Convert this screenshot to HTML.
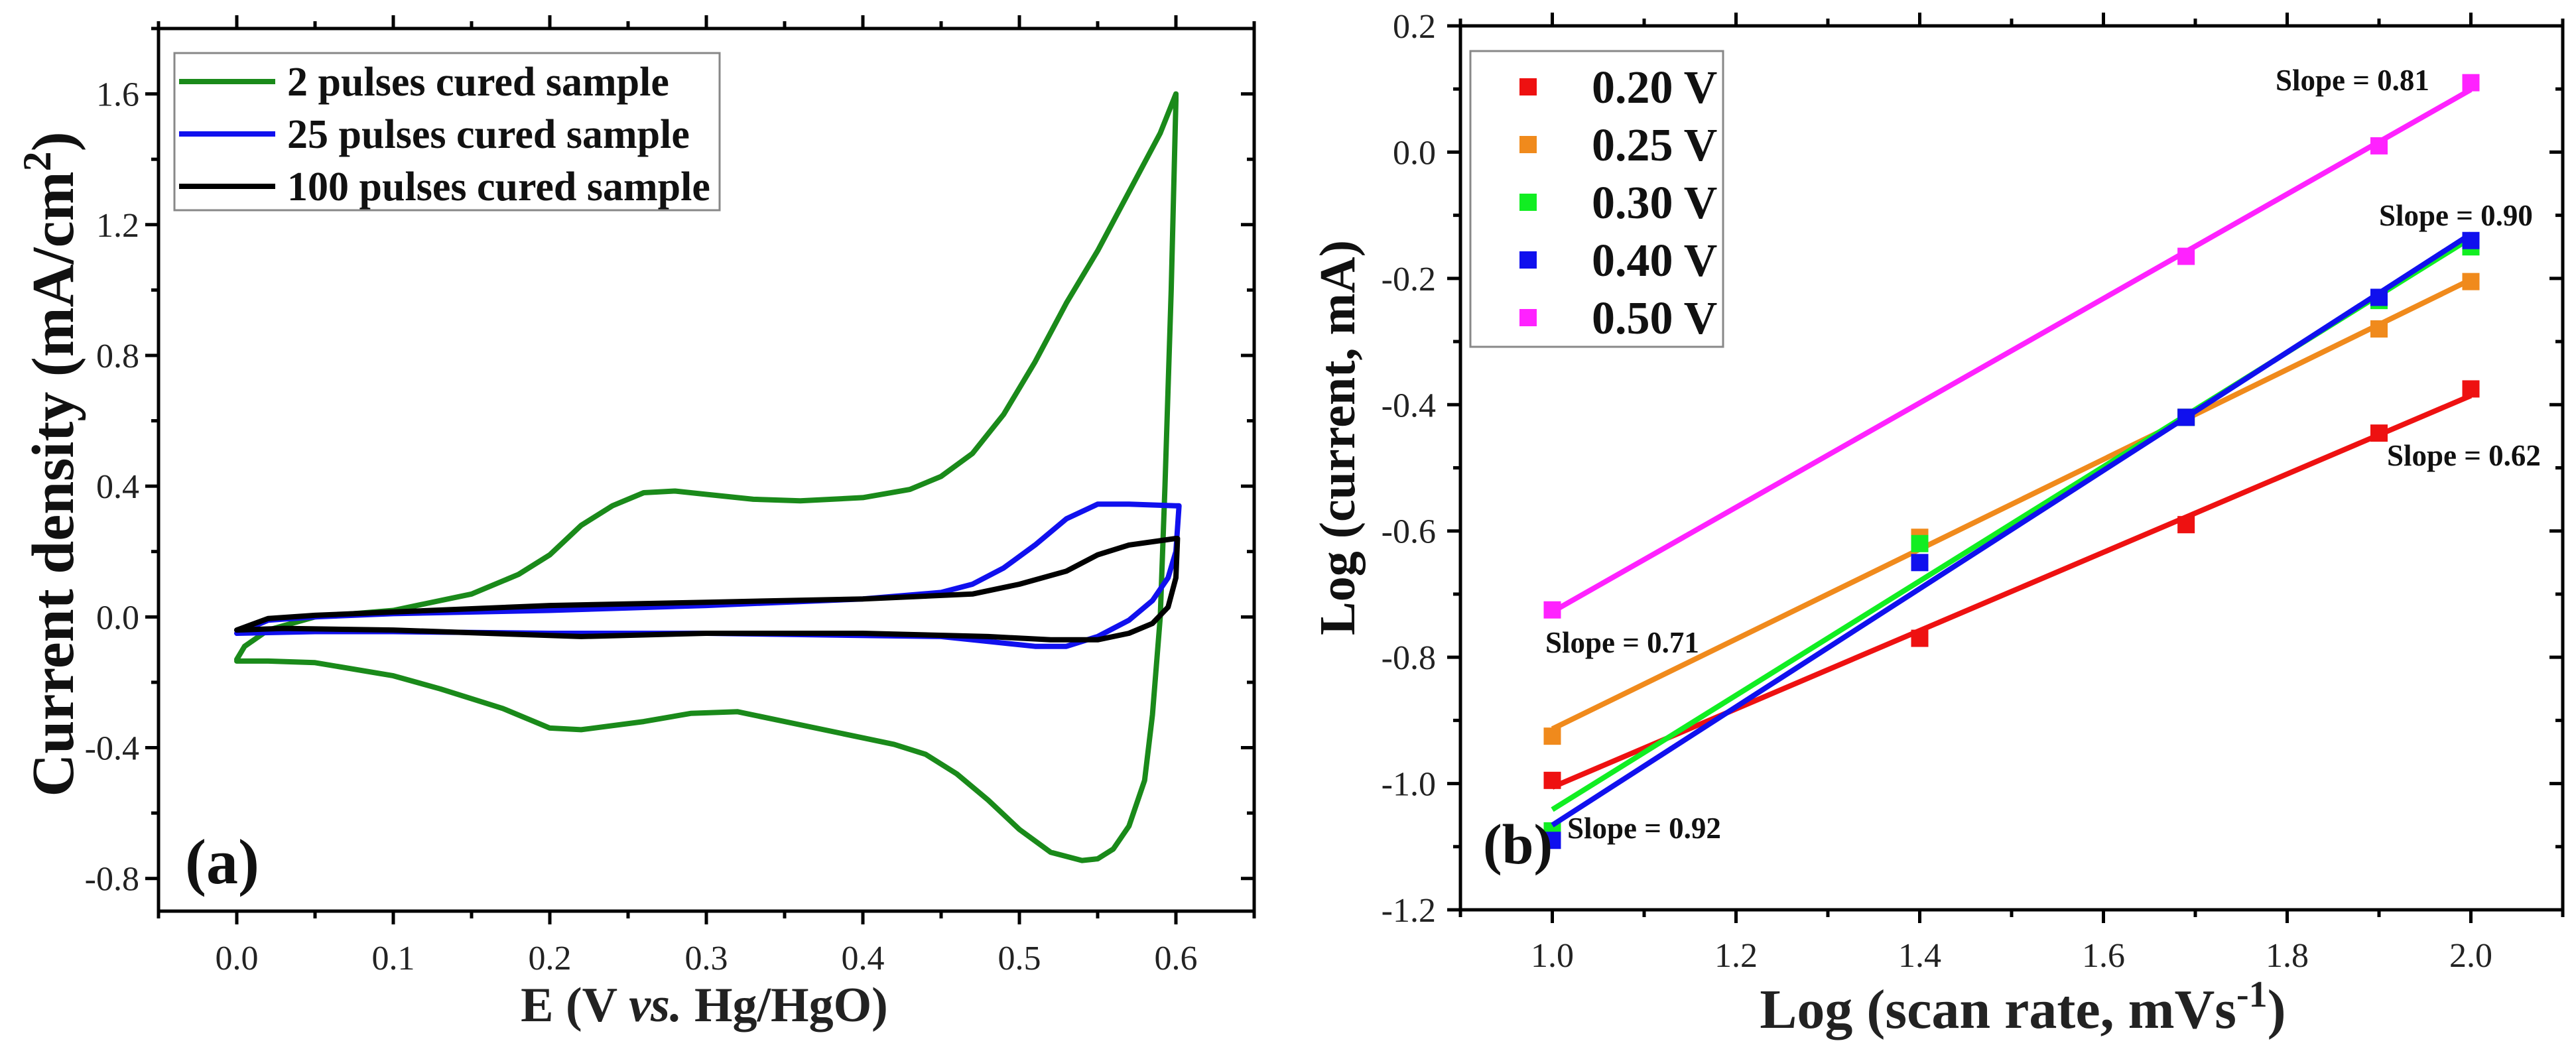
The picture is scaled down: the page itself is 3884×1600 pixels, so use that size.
<!DOCTYPE html>
<html><head><meta charset="utf-8">
<style>
html,body{margin:0;padding:0;background:#fff;}
svg{display:block;font-family:"Liberation Serif",serif;}
</style></head>
<body>
<svg id="fig" width="3884" height="1600" viewBox="0 0 3884 1600" xmlns="http://www.w3.org/2000/svg">
<g id="pa"></g>
<g id="pb"></g>
</svg>
<script>
// ---------- Panel (a) data ----------
const cvNames = ["2 pulses cured sample","25 pulses cured sample","100 pulses cured sample"];
const cvColors = ["#1a8a1a","#1010ee","#000000"];
const cv2E = [0,0.005,0.02,0.05,0.1,0.15,0.18,0.2,0.22,0.24,0.26,0.28,0.3,0.33,0.36,0.4,0.43,0.45,0.47,0.49,0.51,0.53,0.55,0.57,0.59,0.6,0.6,0.597,0.593,0.59,0.585,0.58,0.57,0.56,0.55,0.54,0.52,0.5,0.48,0.46,0.44,0.42,0.4,0.36,0.32,0.29,0.26,0.22,0.2,0.17,0.13,0.1,0.05,0.02,0];
const cv2J = [-0.13,-0.09,-0.04,0,0.02,0.07,0.13,0.19,0.28,0.34,0.38,0.385,0.375,0.36,0.355,0.365,0.39,0.43,0.5,0.62,0.78,0.96,1.12,1.3,1.48,1.6,1.58,1.0,0.4,0.0,-0.3,-0.5,-0.64,-0.71,-0.74,-0.745,-0.72,-0.65,-0.56,-0.48,-0.42,-0.39,-0.37,-0.33,-0.29,-0.295,-0.32,-0.345,-0.34,-0.28,-0.22,-0.18,-0.14,-0.135,-0.135];
const cv25E = [0,0.02,0.05,0.1,0.2,0.3,0.4,0.45,0.47,0.49,0.51,0.53,0.55,0.57,0.6,0.602,0.6,0.595,0.585,0.57,0.55,0.53,0.51,0.48,0.45,0.3,0.2,0.1,0.05,0];
const cv25J = [-0.05,-0.01,0,0.01,0.02,0.035,0.055,0.075,0.1,0.15,0.22,0.3,0.345,0.345,0.34,0.34,0.2,0.12,0.05,-0.01,-0.06,-0.09,-0.09,-0.075,-0.06,-0.05,-0.05,-0.045,-0.045,-0.05];
const cv100E = [0,0.02,0.05,0.1,0.2,0.3,0.4,0.47,0.5,0.53,0.55,0.57,0.6,0.601,0.6,0.595,0.585,0.57,0.55,0.52,0.48,0.4,0.3,0.22,0.1,0.03,0];
const cv100J = [-0.04,-0.005,0.005,0.015,0.035,0.045,0.055,0.07,0.1,0.14,0.19,0.22,0.24,0.24,0.12,0.03,-0.02,-0.05,-0.07,-0.07,-0.06,-0.05,-0.05,-0.06,-0.04,-0.035,-0.04];
const aXTicks = ["0.0","0.1","0.2","0.3","0.4","0.5","0.6"];
const aYTicks = ["-0.8","-0.4","0.0","0.4","0.8","1.2","1.6"];

// ---------- Panel (b) data ----------
const bNames = ["0.20 V","0.25 V","0.30 V","0.40 V","0.50 V"];
const bColors = ["#ee1111","#f08a1c","#11ee22","#1010ee","#ff22ff"];
const bX = [1.0,1.4,1.69,1.9,2.0];
const b020 = [-0.995,-0.77,-0.59,-0.445,-0.375];
const b025 = [-0.925,-0.61,-0.42,-0.28,-0.205];
const b030 = [-1.075,-0.62,-0.42,-0.235,-0.15];
const b040 = [-1.09,-0.65,-0.42,-0.23,-0.14];
const b050 = [-0.725,null,-0.165,0.01,0.11];
const bXTicks = ["1.0","1.2","1.4","1.6","1.8","2.0"];
const bYTicks = ["-1.2","-1.0","-0.8","-0.6","-0.4","-0.2","0.0","0.2"];
const slopeLabels = ["Slope = 0.81","Slope = 0.90","Slope = 0.62","Slope = 0.71","Slope = 0.92"];

const NS="http://www.w3.org/2000/svg";
function mk(parent,tag,attrs,text){const e=document.createElementNS(NS,tag);for(const k in attrs)e.setAttribute(k,attrs[k]);if(text!==undefined)e.textContent=text;parent.appendChild(e);return e;}

// ===== Panel a =====
const pa=document.getElementById('pa');
const A={l:239,r:1891,t:43,b:1374,x0:-0.05,x1:0.65,y0:-0.9,y1:1.8};
const ax=v=>A.l+(v-A.x0)/(A.x1-A.x0)*(A.r-A.l);
const ay=v=>A.b-(v-A.y0)/(A.y1-A.y0)*(A.b-A.t);
for(let i=0;i<=14;i++){const v=-0.05+i*0.05;const x=ax(v);const major=Math.abs(Math.round(v*10)-v*10)<1e-6;
 const L=major?20:11;
 let t=mk(pa,'line',{x1:x,x2:x,y1:A.b,y2:A.b+L,stroke:'#000','stroke-width':5});
 
 t=mk(pa,'line',{x1:x,x2:x,y1:A.t,y2:A.t-L,stroke:'#000','stroke-width':5});
 }
aXTicks.forEach(s=>{const t=mk(pa,'text',{x:ax(parseFloat(s)),y:1462,'font-size':52,'text-anchor':'middle',fill:'#222'},s);
 });
for(let i=0;i<=13;i++){const v=-0.8+i*0.2;const y=ay(v);const major=(i%2===0);const L=major?20:11;
 let t=mk(pa,'line',{x1:A.l,x2:A.l-L,y1:y,y2:y,stroke:'#000','stroke-width':5});
 
 t=mk(pa,'line',{x1:A.r,x2:A.r-L,y1:y,y2:y,stroke:'#000','stroke-width':5});
 }
aYTicks.forEach(s=>{const t=mk(pa,'text',{x:210,y:ay(parseFloat(s))+18,'font-size':52,'text-anchor':'end',fill:'#222'},s);
 });
[[cv2E,cv2J],[cv25E,cv25J],[cv100E,cv100J]].forEach((d,k)=>{
 const pts=d[0].map((e,i)=>ax(e).toFixed(1)+','+ay(d[1][i]).toFixed(1)).join(' ');
 const p=mk(pa,'polyline',{points:pts,fill:'none',stroke:cvColors[k],'stroke-width':8,'stroke-linejoin':'round','stroke-linecap':'round'});
 
 });
let fr=mk(pa,'rect',{x:A.l,y:A.t,width:A.r-A.l,height:A.b-A.t,fill:'none',stroke:'#000','stroke-width':5});

const lga=mk(pa,'g',{});

mk(lga,'rect',{x:263,y:80,width:822,height:237,fill:'#fff',stroke:'#888','stroke-width':3});
cvNames.forEach((n,i)=>{const y=123+i*79;
 const g=mk(lga,'g',{});
 
 mk(g,'line',{x1:270,x2:415,y1:y,y2:y,stroke:cvColors[i],'stroke-width':8});
 mk(g,'text',{x:433,y:y+21,'font-size':62,'font-weight':'bold',fill:'#111'},n);});
let tx=mk(pa,'text',{x:279,y:1332,'font-size':96,'font-weight':'bold',fill:'#111'},'(a)');

tx=mk(pa,'text',{x:1062,y:1540,'font-size':74,'font-weight':'bold','text-anchor':'middle',fill:'#222'});

mk(tx,'tspan',{},'E (V ');mk(tx,'tspan',{'font-style':'italic'},'vs.');mk(tx,'tspan',{},' Hg/HgO)');
tx=mk(pa,'text',{x:0,y:0,'font-size':90,'font-weight':'bold','text-anchor':'middle',fill:'#111',transform:'translate(110,700) rotate(-90)'});

mk(tx,'tspan',{},'Current density (mA/cm');mk(tx,'tspan',{dy:-34,'font-size':60},'2');mk(tx,'tspan',{dy:34},')');

// ===== Panel b =====
const pb=document.getElementById('pb');
const B={l:2202,r:3864,t:39,b:1372,x0:0.9,x1:2.1,y0:-1.2,y1:0.2};
const bx=v=>B.l+(v-B.x0)/(B.x1-B.x0)*(B.r-B.l);
const by=v=>B.b-(v-B.y0)/(B.y1-B.y0)*(B.b-B.t);
for(let i=0;i<=12;i++){const v=0.9+i*0.1;const x=bx(v);const major=(i%2===1);const L=major?20:11;
 let t=mk(pb,'line',{x1:x,x2:x,y1:B.b,y2:B.b+L,stroke:'#000','stroke-width':5});
 
 t=mk(pb,'line',{x1:x,x2:x,y1:B.t,y2:B.t-L,stroke:'#000','stroke-width':5});
 }
bXTicks.forEach(s=>{const t=mk(pb,'text',{x:bx(parseFloat(s)),y:1458,'font-size':52,'text-anchor':'middle',fill:'#222'},s);
 });
for(let i=0;i<=14;i++){const v=-1.2+i*0.1;const y=by(v);const major=(i%2===0);const L=major?20:11;
 let t=mk(pb,'line',{x1:B.l,x2:B.l-L,y1:y,y2:y,stroke:'#000','stroke-width':5});
 
 t=mk(pb,'line',{x1:B.r,x2:B.r-L,y1:y,y2:y,stroke:'#000','stroke-width':5});
 }
bYTicks.forEach(s=>{const t=mk(pb,'text',{x:2165,y:by(parseFloat(s))+18,'font-size':52,'text-anchor':'end',fill:'#222'},s);
 });
const bSeries=[b020,b025,b030,b040,b050];
bSeries.forEach((ys,k)=>{
 const xs=[],yy=[];ys.forEach((v,i)=>{if(v!==null){xs.push(bX[i]);yy.push(v);}});
 const n=xs.length,mx=xs.reduce((a,b)=>a+b)/n,my=yy.reduce((a,b)=>a+b)/n;
 let sxy=0,sxx=0;xs.forEach((x,i)=>{sxy+=(x-mx)*(yy[i]-my);sxx+=(x-mx)*(x-mx);});
 const m=sxy/sxx,c=my-m*mx;
 const ln=mk(pb,'line',{x1:bx(1),y1:by(m*1+c),x2:bx(2),y2:by(m*2+c),stroke:bColors[k],'stroke-width':8});
 
 
 xs.forEach((x,i)=>{const r=mk(pb,'rect',{x:bx(x)-13,y:by(yy[i])-13,width:26,height:26,fill:bColors[k]});
  
  });
});
fr=mk(pb,'rect',{x:B.l,y:B.t,width:B.r-B.l,height:B.b-B.t,fill:'none',stroke:'#000','stroke-width':5});

const lgb=mk(pb,'g',{});

mk(lgb,'rect',{x:2217,y:77,width:381,height:446,fill:'#fff',stroke:'#888','stroke-width':3});
bNames.forEach((n,i)=>{const y=131+i*87;
 const g=mk(lgb,'g',{});
 
 mk(g,'rect',{x:2291,y:y-13,width:26,height:26,fill:bColors[i]});
 mk(g,'text',{x:2400,y:y+24,'font-size':70,'font-weight':'bold',fill:'#111'},n);});
const slopePos=[[3431,136],[3587,340],[3599,702],[2330,984],[2363,1264]];
slopeLabels.forEach((s,i)=>{const t=mk(pb,'text',{x:slopePos[i][0],y:slopePos[i][1],'font-size':45,'font-weight':'bold',fill:'#111'},s);
 });
tx=mk(pb,'text',{x:2236,y:1302,'font-size':86,'font-weight':'bold',fill:'#111'},'(b)');

tx=mk(pb,'text',{x:3050,y:1550,'font-size':84,'font-weight':'bold','text-anchor':'middle',fill:'#222'});

mk(tx,'tspan',{},'Log (scan rate, mVs');mk(tx,'tspan',{dy:-32,'font-size':56},'-1');mk(tx,'tspan',{dy:32},')');
tx=mk(pb,'text',{x:0,y:0,'font-size':76,'font-weight':'bold','text-anchor':'middle',fill:'#111',transform:'translate(2042,660) rotate(-90)'},'Log (current, mA)');

</script>
</body></html>
